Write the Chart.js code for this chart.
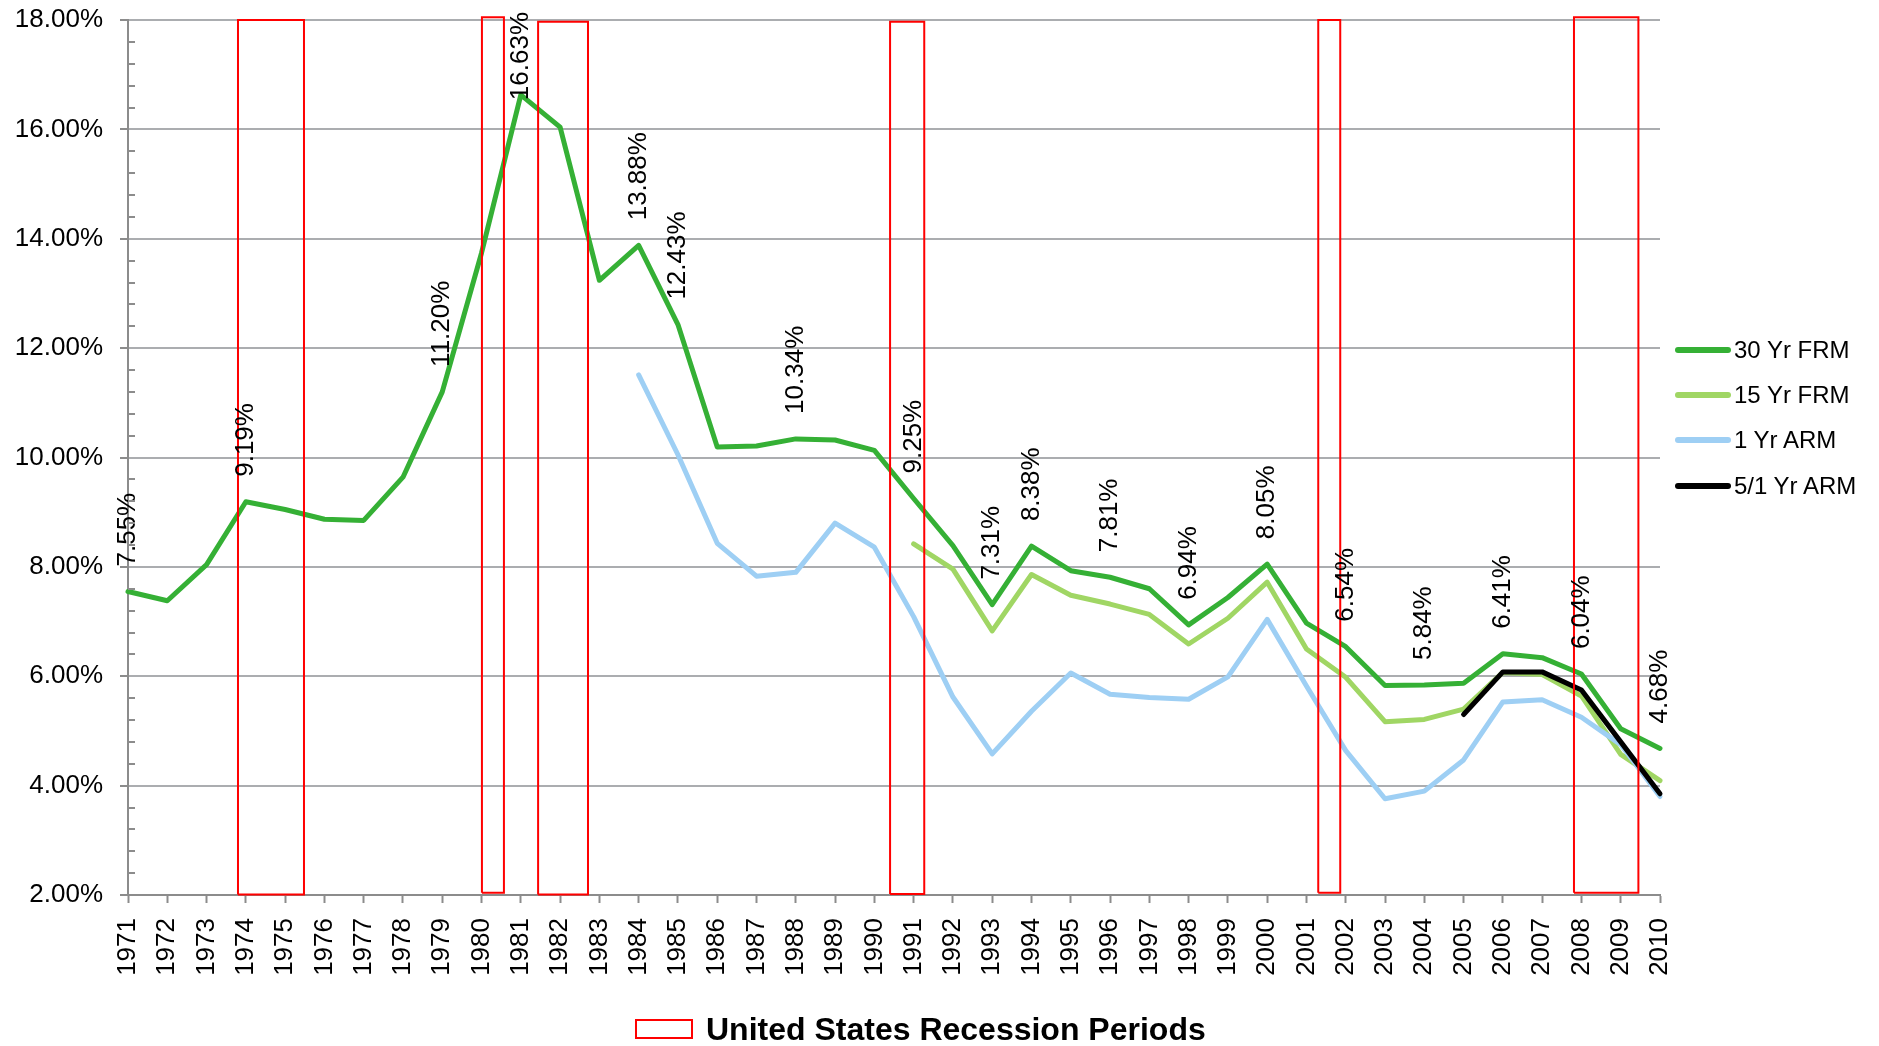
<!DOCTYPE html>
<html>
<head>
<meta charset="utf-8">
<title>Mortgage rates 1971-2010</title>
<script src="https://cdn.jsdelivr.net/npm/chart.js@4.4.1/dist/chart.umd.min.js"></script>
<style>
  body { margin: 0; background: #fff; font-family: "Liberation Sans", Arial, sans-serif; }
  #wrap { position: relative; width: 1879px; height: 1046px; overflow: hidden; }
  #rateChart { position: absolute; left: 0; top: 0; }
  #legend { position: absolute; left: 1675px; top: 327px; }
  .item { display: flex; align-items: center; height: 45.3px; font-size: 24px; color: #000; }
  .swatch { width: 56px; height: 6px; border-radius: 3px; margin-right: 3px; }
  #recLegend { position: absolute; left: 635px; top: 1010px; height: 38px; display: flex; align-items: center;
               font-size: 32px; font-weight: bold; color: #000; }
  .recBox { width: 54px; height: 16px; border: 2px solid #ff0000; margin-right: 13px; }
</style>
</head>
<body>
<div id="wrap">
  <canvas id="rateChart" width="1879" height="1046"></canvas>
  <div id="legend"></div>
  <div id="recLegend"><span class="recBox"></span><span>United States Recession Periods</span></div>
</div>
<script>
// years on the x axis
const years = [1971, 1972, 1973, 1974, 1975, 1976, 1977, 1978, 1979, 1980,
               1981, 1982, 1983, 1984, 1985, 1986, 1987, 1988, 1989, 1990,
               1991, 1992, 1993, 1994, 1995, 1996, 1997, 1998, 1999, 2000,
               2001, 2002, 2003, 2004, 2005, 2006, 2007, 2008, 2009, 2010];

// annual average rates (%)
const frm30 = [7.55, 7.38, 8.04, 9.19, 9.05, 8.87, 8.85, 9.64, 11.20, 13.74,
               16.63, 16.04, 13.24, 13.88, 12.43, 10.19, 10.21, 10.34, 10.32, 10.13,
               9.25, 8.39, 7.31, 8.38, 7.93, 7.81, 7.60, 6.94, 7.44, 8.05,
               6.97, 6.54, 5.83, 5.84, 5.87, 6.41, 6.34, 6.04, 5.04, 4.68];
const frm15 = [null, null, null, null, null, null, null, null, null, null,
               null, null, null, null, null, null, null, null, null, null,
               8.42, 7.96, 6.83, 7.86, 7.48, 7.32, 7.13, 6.59, 7.06, 7.72,
               6.50, 5.98, 5.17, 5.21, 5.40, 6.07, 6.03, 5.64, 4.57, 4.09];
const arm1 = [null, null, null, null, null, null, null, null, null, null,
              null, null, null, 11.51, 10.05, 8.43, 7.83, 7.90, 8.80, 8.36,
              7.09, 5.62, 4.58, 5.36, 6.06, 5.67, 5.61, 5.58, 5.99, 7.04,
              5.82, 4.64, 3.76, 3.90, 4.47, 5.53, 5.57, 5.25, 4.75, 3.80];
const arm51 = [null, null, null, null, null, null, null, null, null, null,
               null, null, null, null, null, null, null, null, null, null,
               null, null, null, null, null, null, null, null, null, null,
               null, null, null, null, 5.30, 6.08, 6.08, 5.75, 4.80, 3.85];

// years that carry a value label on the 30 Yr FRM line
const labelYears = [1971, 1974, 1979, 1981, 1984, 1985, 1988, 1991, 1993, 1994,
                    1996, 1998, 2000, 2002, 2004, 2006, 2008, 2010];

// recession periods (decimal years) and box extent (%)
const recStart  = [1973.80, 1980.01, 1981.44, 1990.40, 2001.30, 2007.81];
const recEnd    = [1975.48, 1980.57, 1982.71, 1991.27, 2001.86, 2009.45];
const recTop    = [18.00, 18.05, 17.97, 17.97, 18.00, 18.05];
const recBottom = [2.01, 2.04, 2.01, 2.02, 2.04, 2.04];

const seriesNames  = ["30 Yr FRM", "15 Yr FRM", "1 Yr ARM", "5/1 Yr ARM"];
const seriesColors = ["#35B035", "#A0D664", "#9ECFF4", "#000000"];

const axisColor = "#8C8C8C";
const gridColor = "#ABADB0";
const fontFamily = '"Liberation Sans", Arial, sans-serif';

function toPoints(vals) {
  return years.map((yr, i) => ({ x: yr, y: vals[i] }));
}

const lineSets = [frm30, frm15, arm1, arm51].map((vals, i) => ({
  label: seriesNames[i],
  data: toPoints(vals),
  borderColor: seriesColors[i],
  backgroundColor: seriesColors[i],
  borderWidth: 5,
  borderJoinStyle: "round",
  borderCapStyle: "round",
  pointRadius: 0,
  fill: false,
  clip: false,
  order: 4 - i
}));

// each recession drawn as a closed outline
const recSets = recStart.map((s, i) => ({
  label: "recession",
  data: [
    { x: s, y: recBottom[i] },
    { x: s, y: recTop[i] },
    { x: recEnd[i], y: recTop[i] },
    { x: recEnd[i], y: recBottom[i] },
    { x: s, y: recBottom[i] }
  ],
  borderColor: "#FF0000",
  borderWidth: 2,
  borderJoinStyle: "miter",
  pointRadius: 0,
  fill: false,
  clip: false,
  order: 0
}));

// small ticks inside the y axis between the major steps
const minorTicks = {
  id: "minorTicks",
  afterDraw(chart) {
    const ys = chart.scales.y;
    const ctx = chart.ctx;
    ctx.save();
    ctx.strokeStyle = axisColor;
    ctx.lineWidth = 2;
    for (let v = 2; v < 18; v += 2) {
      for (let k = 1; k <= 4; k++) {
        const py = Math.round(ys.getPixelForValue(v + k * 0.4));
        ctx.beginPath();
        ctx.moveTo(ys.right, py);
        ctx.lineTo(ys.right + 7, py);
        ctx.stroke();
      }
    }
    ctx.restore();
  }
};

// vertical value labels above the 30 Yr FRM points
const pointLabels = {
  id: "pointLabels",
  afterDatasetsDraw(chart) {
    const meta = chart.getDatasetMeta(0);
    const ctx = chart.ctx;
    ctx.save();
    ctx.font = "26px " + fontFamily;
    ctx.fillStyle = "#000";
    ctx.textAlign = "left";
    ctx.textBaseline = "middle";
    labelYears.forEach(yr => {
      const i = years.indexOf(yr);
      const pt = meta.data[i];
      const text = frm30[i].toFixed(2) + "%";
      const w = ctx.measureText(text).width;
      let start = pt.y - 25;
      if (start - w < 12) start = 12 + w;
      ctx.save();
      ctx.translate(pt.x, start);
      ctx.rotate(-Math.PI / 2);
      ctx.fillText(text, 0, 0);
      ctx.restore();
    });
    ctx.restore();
  }
};

const chart = new Chart(document.getElementById("rateChart"), {
  type: "line",
  data: { datasets: lineSets.concat(recSets) },
  options: {
    responsive: false,
    animation: false,
    devicePixelRatio: 1,
    layout: { padding: { left: 0, right: 219, top: 20, bottom: 0 } },
    plugins: {
      legend: { display: false },
      tooltip: { enabled: false }
    },
    elements: { line: { tension: 0 } },
    scales: {
      x: {
        type: "linear",
        min: 1971,
        max: 2010,
        afterFit: scale => {
          scale.height = 151;
          scale.paddingLeft = 0;
          scale.paddingRight = 0;
        },
        ticks: {
          stepSize: 1,
          autoSkip: false,
          minRotation: 90,
          maxRotation: 90,
          padding: 15,
          color: "#000",
          font: { family: fontFamily, size: 26 },
          callback: v => String(v)
        },
        grid: { drawOnChartArea: false, tickLength: 8, tickColor: axisColor, tickWidth: 2 },
        border: { color: axisColor, width: 2 }
      },
      y: {
        min: 2,
        max: 18,
        afterFit: scale => {
          scale.width = 128;
          scale.paddingTop = 0;
          scale.paddingBottom = 0;
        },
        ticks: {
          stepSize: 2,
          padding: 17,
          color: "#000",
          font: { family: fontFamily, size: 26 },
          callback: v => v.toFixed(2) + "%"
        },
        grid: { color: gridColor, lineWidth: 2, tickLength: 8, tickColor: axisColor, tickWidth: 2 },
        border: { color: axisColor, width: 2 }
      }
    }
  },
  plugins: [minorTicks, pointLabels]
});

// right-hand legend built from the line datasets
const legendBox = document.getElementById("legend");
lineSets.forEach(ds => {
  const row = document.createElement("div");
  row.className = "item";
  const sw = document.createElement("span");
  sw.className = "swatch";
  sw.style.background = ds.borderColor;
  const txt = document.createElement("span");
  txt.textContent = ds.label;
  row.appendChild(sw);
  row.appendChild(txt);
  legendBox.appendChild(row);
});
</script>
</body>
</html>
